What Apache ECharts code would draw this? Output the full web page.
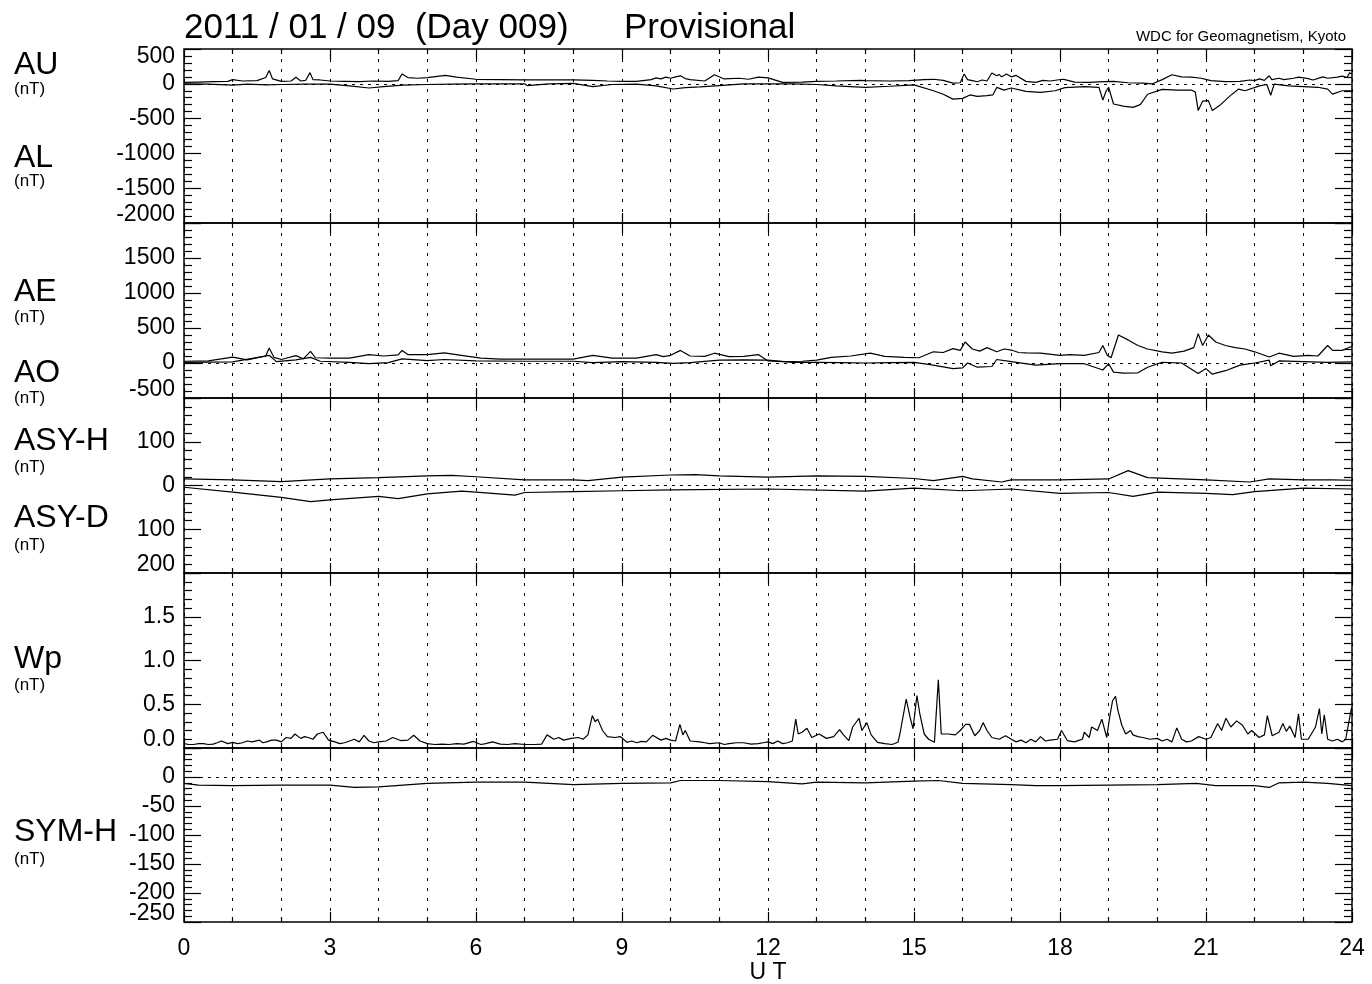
<!DOCTYPE html>
<html>
<head>
<meta charset="utf-8">
<title>2011/01/09 AE / ASY / Wp / SYM-H</title>
<script src="https://cdn.jsdelivr.net/npm/echarts@6/dist/echarts.min.js"></script>
<style>
html, body { margin: 0; padding: 0; background: #fff; }
#main { width: 1372px; height: 984px; }
</style>
</head>
<body>
<div id="main"></div>
<script>
// values, time in hours UT
const auTime = [0, 0.3, 0.6, 0.9, 1.0, 1.2, 1.5, 1.68, 1.75, 1.82, 2.0, 2.2, 2.3, 2.4, 2.5, 2.59, 2.65, 2.8, 3.0, 3.3, 3.6, 3.9, 4.2, 4.4, 4.48, 4.6, 4.8, 5.0, 5.37, 5.6, 6.0, 6.5, 7.0, 7.5, 8.0, 8.4, 8.7, 9.0, 9.3, 9.6, 9.7, 9.8, 9.9, 10.0, 10.1, 10.2, 10.3, 10.4, 10.7, 10.9, 11.1, 11.4, 11.6, 11.8, 12.0,
  12.3, 12.7, 13.0, 13.4, 13.9, 14.0, 14.5, 14.9, 15.2, 15.4, 15.6, 15.8, 15.95, 16.03, 16.1, 16.2, 16.3, 16.4, 16.5, 16.6, 16.7, 16.75, 16.8, 16.85, 16.9, 17.0, 17.1, 17.3, 17.5, 17.65, 17.8, 18.05, 18.1, 18.3, 18.6, 18.9, 19.1, 19.4, 19.7, 19.9, 20.1, 20.3, 20.5, 20.7, 20.9, 21.1, 21.4, 21.7, 21.9, 22.0, 22.1, 22.2, 22.3, 22.35, 22.5, 22.6, 22.8, 22.9, 23.1, 23.2, 23.4, 23.5, 23.7, 23.8, 23.9, 23.95, 24]
const auValue = [20, 25, 30, 35, 60, 40, 45, 90, 190, 70, 35, 40, 95, 40, 50, 160, 60, 55, 40, 35, 30, 40, 35, 45, 140, 90, 80, 90, 120, 95, 65, 60, 55, 55, 55, 50, 40, 35, 35, 60, 85, 70, 95, 80, 100, 115, 75, 60, 40, 130, 70, 80, 65, 95, 85,
  20, 25, 35, 40, 50, 45, 40, 45, 60, 65, 50, 10, 15, 140, 60, 45, 30, 55, 40, 155, 115, 135, 100, 120, 140, 100, 120, 35, 20, 50, 40, 65, 60, 25, 20, 30, 35, 15, 10, 0, 60, 130, 100, 95, 80, 45, 30, 35, 55, 45, 70, 50, 115, 60, 80, 60, 80, 95, 75, 55, 100, 80, 95, 110, 90, 160, 140]

const alTime = [0, 0.5, 1.0, 1.3, 1.7, 2.0, 2.5, 3.0, 3.4, 3.8, 4.1, 4.5, 5.0, 5.5, 6.0, 6.5, 7.0, 7.05, 7.5, 8.0, 8.4, 8.8, 9.3, 9.7, 10.05, 10.3, 10.6, 11.0, 11.5, 12.0,
  12.5, 13.0, 13.4, 14.0, 14.5, 15.0, 15.4, 15.6, 15.8, 16.0, 16.15, 16.3, 16.5, 16.62, 16.7, 16.85, 17.0, 17.3, 17.6, 17.9, 18.1, 18.5, 18.8, 18.88, 18.95, 19.0, 19.1, 19.3, 19.5, 19.65, 19.8, 20.1, 20.4, 20.7, 20.78, 20.84, 20.93, 21.05, 21.13, 21.3, 21.5, 21.67, 21.8, 22.1, 22.25, 22.33, 22.4, 22.7, 23.0, 23.3, 23.5, 23.6, 23.8, 24]
const alValue = [0, -5, -20, -5, -15, -10, -5, -5, -30, -60, -40, -20, -10, -5, 0, 0, 0, -25, 0, 5, -40, -10, -5, -30, -75, -55, -45, -25, 0, 0,
  0, -10, -30, -50, -35, -15, -100, -150, -220, -210, -160, -180, -170, -160, -52, -90, -60, -110, -124, -100, -55, -40, -50, -233, -100, -52, -290, -320, -338, -300, -150, -80, -90, -90, -120, -385, -250, -243, -385, -300, -170, -76, -100, -30, -10, -165, -5, -30, -40, -50, -76, -148, -100, -100]

const aeTime = [0, 0.5, 1.0, 1.3, 1.68, 1.75, 1.85, 2.0, 2.3, 2.45, 2.6, 2.7, 3.0, 3.4, 3.8, 4.1, 4.4, 4.48, 4.6, 5.0, 5.35, 5.7, 6.1, 6.5, 7.0, 7.5, 8.0, 8.4, 8.8, 9.3, 9.7, 9.85, 10.0, 10.2, 10.4, 10.7, 10.9, 11.2, 11.5, 11.8, 12.0,
  12.3, 12.7, 13.0, 13.3, 13.7, 14.1, 14.4, 14.8, 15.1, 15.4, 15.6, 15.8, 15.95, 16.05, 16.2, 16.35, 16.5, 16.7, 16.85, 17.0, 17.15, 17.3, 17.6, 18.0, 18.2, 18.5, 18.8, 18.88, 18.97, 19.05, 19.2, 19.4, 19.6, 19.8, 20.1, 20.3, 20.55, 20.75, 20.84, 20.93, 21.05, 21.2, 21.4, 21.6, 21.8, 22.0, 22.3, 22.5, 22.8, 23.1, 23.3, 23.5, 23.6, 23.8, 23.9, 24]
const aeValue = [25, 30, 85, 45, 100, 215, 80, 50, 105, 60, 165, 75, 70, 70, 120, 100, 115, 180, 120, 120, 145, 110, 70, 55, 55, 55, 55, 110, 70, 70, 120, 90, 110, 180, 100, 95, 140, 90, 95, 120, 30,
  20, 25, 40, 80, 100, 140, 95, 80, 75, 160, 150, 205, 180, 300, 200, 170, 220, 160, 200, 185, 150, 145, 140, 110, 120, 110, 150, 250, 110, 75, 400, 330, 250, 200, 160, 140, 170, 220, 420, 250, 400, 300, 250, 220, 200, 160, 85, 140, 95, 110, 100, 250, 180, 180, 210, 240]

const aoTime = [0, 1.0, 1.75, 1.9, 2.3, 2.6, 2.8, 3.4, 3.8, 4.2, 4.48, 5.0, 5.35, 6.0, 7.0, 8.0, 8.4, 9.0, 9.7, 10.05, 10.4, 11.0, 11.5, 12.0,
  12.5, 13.0, 13.5, 14.0, 14.5, 15.0, 15.3, 15.6, 15.8, 16.0, 16.1, 16.3, 16.6, 16.7, 17.0, 17.5, 18.0, 18.5, 18.88, 19.0, 19.1, 19.3, 19.6, 19.8, 20.1, 20.5, 20.84, 21.0, 21.13, 21.4, 21.7, 22.0, 22.3, 22.33, 22.5, 23.0, 23.5, 24]
const aoValue = [10, 15, 110, 20, 45, 80, 25, 10, -10, 5, 60, 35, 50, 30, 25, 25, 5, 20, 10, -5, 5, 40, 45, 40,
  10, 10, 5, 0, 5, 10, -20, -55, -80, -70, 0, -60, -50, 50, 20, -30, -10, -10, -100, -10, -130, -145, -140, -60, 10, 0, -150, -80, -160, -110, -30, 0, 40, -40, 30, 20, 10, 15]

const asyHTime = [0, 1, 2, 3, 4, 5, 5.5, 6, 7, 8, 8.3, 9, 10, 10.5, 11, 12, 13, 14, 15, 15.4, 16, 16.2, 16.8, 17, 18, 19, 19.4, 19.8, 21, 21.9, 22.3, 23, 23.6, 24]
const asyHValue = [15, 13, 9, 15, 18, 22, 23, 20, 13, 13, 11, 19, 24, 25, 22, 19, 22, 21, 16, 11, 21, 15, 8, 13, 13, 15, 34, 18, 13, 8, 15, 13, 13, 12]

// ASY-D is drawn downward from zero
const asyDTime = [0, 1, 2, 2.6, 3, 4, 4.4, 5, 5.7, 6, 6.8, 7, 8, 9, 10, 12, 14, 15, 16, 17, 18, 19, 19.5, 20, 21, 21.55, 22, 23, 24]
const asyDValue = [4, 15, 27, 37, 33, 25, 30, 19, 13, 15, 22, 16, 14, 12, 10, 8, 13, 6, 12, 8, 18, 16, 25, 15, 18, 21, 14, 6, 8]

const wpTime = [0.0, 0.1, 0.2, 0.3, 0.4, 0.5, 0.6, 0.68, 0.77, 0.9, 1.0, 1.1, 1.2, 1.3, 1.4, 1.55, 1.62, 1.7, 1.8, 1.9, 2.0, 2.1, 2.2, 2.28, 2.4, 2.48, 2.55, 2.65, 2.74, 2.86, 2.97, 3.1, 3.2, 3.3, 3.5, 3.6, 3.7, 3.8, 3.9, 4.0, 4.15, 4.29, 4.45, 4.6, 4.72, 4.85, 5.0, 5.15, 5.3, 5.45, 5.6, 5.75, 5.95, 6.1, 6.2, 6.34, 6.5, 6.65, 6.8, 7.0, 7.2, 7.35, 7.46, 7.6, 7.7, 7.8, 7.96, 8.1, 8.2, 8.3, 8.39, 8.45, 8.5, 8.6, 8.7, 8.85, 8.97, 9.1, 9.2, 9.3, 9.4, 9.5, 9.63, 9.8, 9.9, 10.0, 10.1, 10.19, 10.25, 10.3, 10.4, 10.6, 10.7, 10.8, 11.0, 11.1, 11.2, 11.35, 11.5, 11.65, 11.8, 11.9,
  12.0, 12.1, 12.2, 12.3, 12.4, 12.5, 12.57, 12.62, 12.7, 12.8, 12.9, 13.05, 13.2, 13.35, 13.47, 13.55, 13.66, 13.74, 13.87, 13.93, 14.03, 14.12, 14.25, 14.4, 14.55, 14.67, 14.71, 14.8, 14.84, 14.92, 14.98, 15.06, 15.12, 15.21, 15.3, 15.42, 15.5, 15.56, 15.7, 15.85, 15.95, 16.06, 16.14, 16.25, 16.35, 16.42, 16.5, 16.6, 16.75, 16.88, 17.0, 17.1, 17.2, 17.3, 17.4, 17.5, 17.6, 17.7, 17.8, 17.95,
  18.03, 18.15, 18.3, 18.4, 18.46, 18.5, 18.6, 18.65, 18.77, 18.86, 18.96, 19.02, 19.08, 19.14, 19.19, 19.27, 19.35, 19.45, 19.5, 19.6, 19.7, 19.85, 20.0, 20.1, 20.2, 20.3, 20.4, 20.5, 20.6, 20.7, 20.85, 21.0, 21.1, 21.24, 21.32, 21.41, 21.51, 21.63, 21.75, 21.86, 21.94, 22.09, 22.2, 22.26, 22.36, 22.5, 22.58, 22.65, 22.72, 22.79, 22.83, 22.9, 22.96, 23.1, 23.25, 23.33, 23.38, 23.43, 23.5, 23.6, 23.7, 23.8, 23.87, 23.99, 24]
const wpValue = [0.05, 0.04, 0.04, 0.05, 0.05, 0.04, 0.045, 0.06, 0.08, 0.05, 0.065, 0.05, 0.06, 0.08, 0.07, 0.09, 0.06, 0.07, 0.09, 0.09, 0.07, 0.12, 0.11, 0.16, 0.11, 0.13, 0.12, 0.1, 0.16, 0.18, 0.09, 0.07, 0.05, 0.06, 0.1, 0.07, 0.145, 0.08, 0.06, 0.07, 0.08, 0.12, 0.085, 0.09, 0.145, 0.08, 0.05, 0.04, 0.045, 0.04, 0.05, 0.045, 0.075, 0.04, 0.05, 0.07, 0.045, 0.04, 0.05, 0.04, 0.04, 0.045, 0.15, 0.1, 0.12, 0.09, 0.11, 0.12, 0.1, 0.15, 0.37, 0.3, 0.33, 0.2, 0.13, 0.12, 0.13, 0.065, 0.08, 0.06, 0.075, 0.07, 0.145, 0.09, 0.11, 0.09, 0.08, 0.27, 0.15, 0.2, 0.08, 0.07, 0.06, 0.05, 0.06, 0.04, 0.05, 0.06, 0.06, 0.045, 0.05, 0.06,
  0.07, 0.05, 0.08, 0.05, 0.06, 0.08, 0.33, 0.16, 0.18, 0.225, 0.12, 0.16, 0.11, 0.13, 0.21, 0.15, 0.085, 0.24, 0.34, 0.2, 0.29, 0.15, 0.065, 0.05, 0.04, 0.065, 0.16, 0.435, 0.56, 0.35, 0.22, 0.6, 0.39, 0.16, 0.1, 0.065, 0.78, 0.16, 0.16, 0.15, 0.2, 0.27, 0.27, 0.14, 0.2, 0.29, 0.2, 0.12, 0.1, 0.14, 0.1, 0.07, 0.09, 0.06, 0.1, 0.07, 0.13, 0.08, 0.09, 0.1,
  0.2, 0.085, 0.07, 0.09, 0.1, 0.18, 0.12, 0.24, 0.2, 0.33, 0.12, 0.35, 0.54, 0.59, 0.43, 0.26, 0.16, 0.2, 0.15, 0.13, 0.12, 0.1, 0.11, 0.08, 0.1, 0.07, 0.23, 0.1, 0.07, 0.08, 0.13, 0.1, 0.12, 0.28, 0.2, 0.34, 0.24, 0.31, 0.26, 0.16, 0.2, 0.12, 0.15, 0.37, 0.14, 0.18, 0.28, 0.19, 0.25, 0.17, 0.12, 0.39, 0.1, 0.1, 0.24, 0.45, 0.16, 0.38, 0.1, 0.08, 0.1, 0.07, 0.1, 0.46, 0.42]

const symTime = [0, 0.3, 1, 2, 3, 3.5, 4, 5, 6, 7, 8, 9, 10, 10.2, 11, 12, 12.7, 13, 14, 15, 15.5, 16, 17, 17.5, 18, 19, 20, 20.8, 21.2, 22, 22.3, 22.5, 23, 23.5, 24]
const symValue = [-11, -14, -15, -14, -14, -18, -17, -11, -9, -9, -13, -11, -10, -6, -6, -8, -12, -9, -10, -7, -6, -11, -13, -15, -15, -14, -13, -11, -15, -15, -18, -10, -9, -11, -15]

const hourLabels = ['0', '3', '6', '9', '12', '15', '18', '21', '24']

const FONT = '"Liberation Sans", Arial, Helvetica, sans-serif'
const pairs = (t, v) => t.map((x, i) => [x, v[i]])

// one entry per stacked panel
const panels = [
  { top: 49, height: 174, min: -2000, max: 500, interval: 500, showMax: true, showMin: true, fmt: v => String(v) },
  { top: 223, height: 175, min: -500, max: 2000, interval: 500, showMax: false, showMin: true, fmt: v => String(v) },
  { top: 398, height: 175, min: -200, max: 200, interval: 100, showMax: false, showMin: true, fmt: v => String(Math.abs(v)) },
  { top: 573, height: 175, min: 0, max: 2, interval: 0.5, showMax: false, showMin: true, fmt: v => v.toFixed(1) },
  // -250 sits too close to -200, it gets its own label-only axis below
  { top: 748, height: 174, min: -250, max: 50, interval: 50, showMax: false, showMin: false, fmt: v => String(v) }
]

const chart = echarts.init(document.getElementById('main'), null, { renderer: 'canvas' })

const tickStyle = { color: '#000', width: 1.2 }
const gridDash = { color: '#000', width: 1, type: [3, 7] }
const noLine = { show: false, onZero: false }

const xAxes = []
const yAxes = []
panels.forEach((p, i) => {
  xAxes.push({
    type: 'value', gridIndex: i, position: 'bottom', min: 0, max: 24, interval: 3,
    axisLine: noLine,
    axisTick: { show: true, inside: true, length: 10, lineStyle: tickStyle },
    minorTick: { show: true, splitNumber: 3, length: 5, lineStyle: tickStyle },
    splitLine: { show: true, lineStyle: gridDash },
    minorSplitLine: { show: true, lineStyle: gridDash },
    axisLabel: {
      show: i === panels.length - 1, margin: 15, fontSize: 23, color: '#000', fontFamily: FONT,
      formatter: v => hourLabels[Math.round(v / 3)]
    }
  })
})
panels.forEach((p, i) => {
  // mirrored ticks on the top edge
  xAxes.push({
    type: 'value', gridIndex: i, position: 'top', min: 0, max: 24, interval: 3,
    axisLine: noLine,
    axisTick: { show: true, inside: true, length: 10, lineStyle: tickStyle },
    minorTick: { show: true, splitNumber: 3, length: 5, lineStyle: tickStyle },
    splitLine: { show: false },
    axisLabel: { show: false }
  })
})
panels.forEach((p, i) => {
  yAxes.push({
    type: 'value', gridIndex: i, position: 'left', min: p.min, max: p.max, interval: p.interval,
    axisLine: noLine,
    axisTick: { show: true, inside: true, length: 17, lineStyle: tickStyle },
    minorTick: { show: true, splitNumber: 5, length: 8, lineStyle: tickStyle },
    splitLine: { show: false },
    axisLabel: {
      margin: 9, fontSize: 23, lineHeight: 16, color: '#000', fontFamily: FONT, formatter: p.fmt,
      showMinLabel: p.showMin, showMaxLabel: p.showMax, hideOverlap: false,
      verticalAlignMaxLabel: 'top', verticalAlignMinLabel: 'bottom'
    }
  })
})
panels.forEach((p, i) => {
  yAxes.push({
    type: 'value', gridIndex: i, position: 'right', min: p.min, max: p.max, interval: p.interval,
    axisLine: noLine,
    axisTick: { show: true, inside: true, length: 17, lineStyle: tickStyle },
    minorTick: { show: true, splitNumber: 5, length: 8, lineStyle: tickStyle },
    splitLine: { show: false },
    axisLabel: { show: false }
  })
})
// label-only axis for the bottom SYM-H label
const sym = panels[4]
yAxes.push({
  type: 'value', gridIndex: 4, position: 'left', min: sym.min, max: sym.max, interval: sym.interval,
  axisLine: noLine, axisTick: { show: false }, splitLine: { show: false },
  axisLabel: {
    margin: 9, fontSize: 23, lineHeight: 16, color: '#000', fontFamily: FONT,
    formatter: v => (v === sym.min ? String(v) : ''),
    showMinLabel: true, showMaxLabel: false, verticalAlignMinLabel: 'bottom'
  }
})

const zeroLine = {
  silent: true, symbol: 'none', label: { show: false },
  lineStyle: { color: '#000', width: 1, type: [3, 5] },
  data: [{ yAxis: 0 }]
}

function line (name, panel, data, withZero) {
  const s = {
    name: name, type: 'line', xAxisIndex: panel, yAxisIndex: panel, data: data,
    showSymbol: false, symbol: 'none', silent: true,
    lineStyle: { color: '#000', width: 1.2 }
  }
  if (withZero) s.markLine = zeroLine
  return s
}

// left side panel names
const sideLabels = [
  ['AU', 65, '(nT)', 89], ['AL', 158, '(nT)', 181],
  ['AE', 292, '(nT)', 317], ['AO', 373, '(nT)', 398],
  ['ASY-H', 441, '(nT)', 467], ['ASY-D', 518, '(nT)', 545],
  ['Wp', 659, '(nT)', 685], ['SYM-H', 832, '(nT)', 859]
]
const graphics = []
sideLabels.forEach(l => {
  graphics.push({ type: 'text', x: 14, y: l[1], style: { text: l[0], fontSize: 32, fontFamily: FONT, fill: '#000', verticalAlign: 'middle' } })
  graphics.push({ type: 'text', x: 14, y: l[3], style: { text: l[2], fontSize: 17, fontFamily: FONT, fill: '#000', verticalAlign: 'middle' } })
})
graphics.push({ type: 'text', x: 184, y: 28, style: { text: '2011 / 01 / 09  (Day 009)', fontSize: 35, fontFamily: FONT, fill: '#000', verticalAlign: 'middle' } })
graphics.push({ type: 'text', x: 624, y: 28, style: { text: 'Provisional', fontSize: 35, fontFamily: FONT, fill: '#000', verticalAlign: 'middle' } })
graphics.push({ type: 'text', x: 1346, y: 37, style: { text: 'WDC for Geomagnetism, Kyoto', fontSize: 15, fontFamily: FONT, fill: '#000', align: 'right', verticalAlign: 'middle' } })
graphics.push({ type: 'text', x: 768, y: 973, style: { text: 'U T', fontSize: 23, fontFamily: FONT, fill: '#000', align: 'center', verticalAlign: 'middle' } })

const option = {
  animation: false,
  backgroundColor: '#fff',
  grid: panels.map(p => ({
    left: 184, width: 1168, top: p.top, height: p.height,
    show: true, borderColor: '#000', borderWidth: 1.5, backgroundColor: 'transparent'
  })),
  xAxis: xAxes,
  yAxis: yAxes,
  graphic: graphics,
  series: [
    line('AU', 0, pairs(auTime, auValue), true),
    line('AL', 0, pairs(alTime, alValue), false),
    line('AE', 1, pairs(aeTime, aeValue), true),
    line('AO', 1, pairs(aoTime, aoValue), false),
    line('ASY-H', 2, pairs(asyHTime, asyHValue), true),
    line('ASY-D', 2, pairs(asyDTime, asyDValue.map(v => -v)), false),
    line('Wp', 3, pairs(wpTime, wpValue), false),
    line('SYM-H', 4, pairs(symTime, symValue), true)
  ]
}
chart.setOption(option)
</script>
</body>
</html>
